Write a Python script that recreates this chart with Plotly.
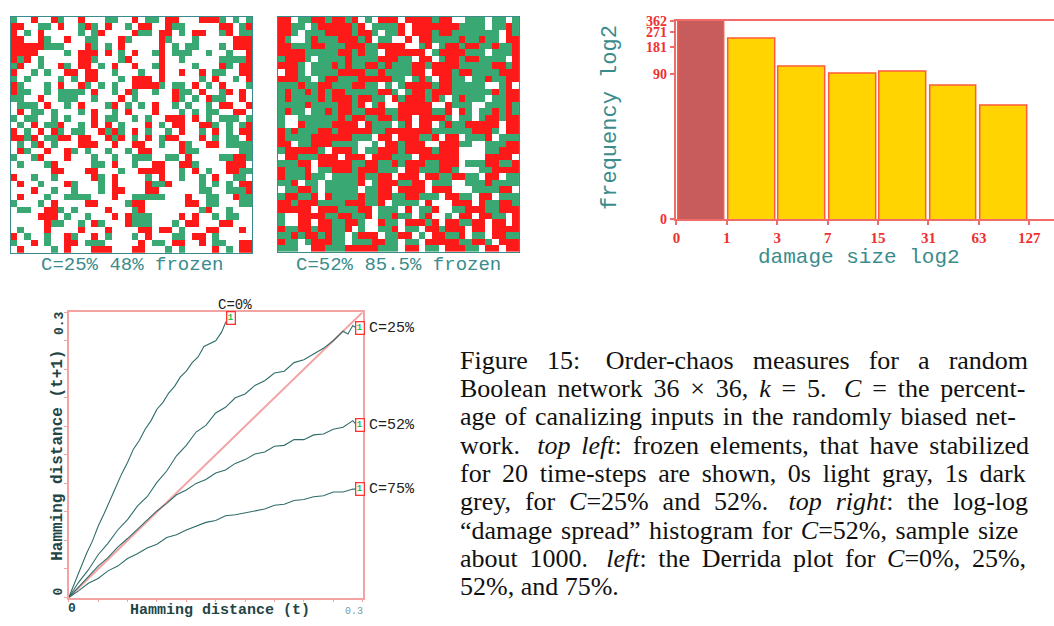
import math
import plotly.graph_objects as go

W, H = 1054, 626

# ---------------- data ----------------
# '.' = not frozen (white), 'r' = frozen at 1 (red), 'g' = frozen at 0 (green)
GRID_C25 = [
    "g..r..rg..r...gg..r.gg.rr...rrrg.g.g",
    "rr..gg.r..grg.r..g.rr..rgg.....rr.gr",
    "r.g.r.....g.gr....rgg.rr.g.rr..gr.gg",
    "rr..rg..r..gg...rg....rg...g.....rrr",
    "rrrrrggg...rg.g.r.....r.g.gg...g.rrr",
    "rrrr....g.rrr.r.g.r..gr.ggg..g..g..r",
    "rgr.g.....rrg...gr....r..g.....ggggr",
    "gr..g..rg.rr.g.r..r..gr....g...rg.rr",
    "r..g.g..rr.rr..g...g..r..r..r.gg..rr",
    "g.g....g.g.rr...g.rrr.r.....g.r..g.r",
    "rg...g.r..rg.g.g..rrrrg.gg.r.g.r...g",
    "rgg..g.gggg.r..g.rg..g..rgg.r..gr.r.",
    "gg..r..ggg..g...r.g.....rg.g.rgg..r.",
    ".ggg.r..g.r...gr.g.g.r..g.g..g.rr..r",
    ".r.gg.g...g.r..g.r...r...g.g.gg..rr.",
    "g.gg..g.g...r.gg..g.g..rrr.r.g.ggg.g",
    ".g.r.ggr..g.r.r.g...r.g.rr..rrg.g.gr",
    "r.g.r.rg.gg..rgrg.r.g..g.r..g.r.g.rr",
    "rrgr.ggrr.rr..rgr.g.r.grr...r.g.gg.r",
    ".g.gr.g...rrr..r..rr..g..rg..rr.gggg",
    ".rg..r..rg.g..g..g.rr....rgg......gg",
    "g..gr...r...g..g..ggg..gg.r....ggrrg",
    ".g...gr.....gg.r..g..rr..rrg....rrr.",
    "......rr...rr...g..rrrr..g.r.g..rrgg",
    "r..g..g.....rg.r....g.r..g..g.r..gg.",
    ".r..g...rg...g.r....rggr....g.g.g.rr",
    "...r..g..g...g.rr...rr......gg..gggr",
    ".r...g..gggg...r..ggggg...r..gg..rgg",
    "g...g.r....rr....grr......rr.gg...gg",
    ".gg..rrg.g....r...gr........gr..g...",
    "....rrr.g..g...r.rggg....r.r..g.gg..",
    ".....rgg..g.rg...rggg...g.rr...rr...",
    ".g...r....r...r....rr.rr.g...rr...r.",
    "r.g..g..rg..r.g...g.r...gg.rr.g.....",
    "g..r.g..rr.ggg.....r.gg.rr..r.gg..rr",
    ".r....g.r...rrr...rr...g.g....r.g.rr",
]

GRID_C52 = [
    "rr.ggr" "rgrrgr" ".g.rrr" ".rrrrg" "rr..gg" "g.gg.g",
    "rrgg.g" "rrrrrg" "r.gggg" "r.rrrr" "rrrggg" "g.ggrg",
    "rrg.gg" "grrrrg" "rrg.gg" "r.rrrg" "rrgggg" "ggg.rg",
    "rg..gr" "gggrrr" "gr.gg." ".r.rrg" "gggrgg" "rgg.rr",
    "rrgggr" "rgggrr" "rggrrr" "r..gr." "grrgrr" "ggrggr",
    "rrrrgg" "gggrrg" "rgg.rr" "rrrr.g" "rrrrgg" "g.gggr",
    "grrrg." "ggggrg" "gggrrr" "gg.rr." "grrgrr" "gggg.r",
    "rrrg.g" "ggrgrg" "grrgrg" "ggrrgr" "rrrggg" "ggrrgr",
    ".rrg.g" "gggrrr" "rggrgg" "ggrr.r" "rrgrrg" "gggrrr",
    "rrrgg." "grrggg" "rrrrrg" "g.grg." "rrgg.g" "grggrr",
    "gggrgg" "rrgggr" "rgg.g." "grrrrg" "rrgggg" "g..gr.",
    "grggrg" "rgrrgg" "gggrrg" ".grrgr" "rrgggg" "ggrgrr",
    "grgggg" "rgrrrg" "rrgg.r" "grrrgr" "g.grgg" "g.ggrr",
    "ggggrg" "gggrrg" "r.gr.." "rrrrr." ".rggg." ".gggrg",
    "grgg.g" "grgrrg" "grrrgg" "rrrrrg" "gr.rg." "ggrgrg",
    "g..ggg" "gggrgr" "rggrrg" "rr.rrr" "rg.gg." "grrgrr",
    "g..rgg" "ggrrrr" ".rggg." "gr.rr." "grggrr" "rrr.rr",
    "rgrggg" "rrgrrr" "rrggrr" "rrrrrg" "gggggr" "rrg.rr",
    "rggggr" "rrrrrg" "gg.rr." "rrrggr" ".rr.gg" "gr.ggg",
    "rr.ggr" "rrgggg" "..g.rr" "grrr.." "rrrgg." ".gggrr",
    "grrrrr" "g.rrrg" ".ggrrr" "grrrrg" "rrr..." ".ggrrr",
    ".rrggg" "rrr.rr" "r.rrrg" "gg.rrr" "rrr..." ".rrrr.",
    "gggrr." "rrrrrg" "grrggr" "grrrgg" "rrr.gg" "grrggr",
    "rgggr." "ggrrrg" "rrrggg" ".rrggg" "rrg..." "ggrrrr",
    "rgggrg" "g.gggg" "rggrr." "rrr.rr" "ggrrgg" ".rr.gg",
    "ggr.gg" ".ggggg" "r.grrr" "ggrr.g" "gg..gg" "grgggg",
    ".ggrrg" ".ggggg" ".ggrr." "rrrr.r" "rr...g" "gggrr.",
    "grrggr" ".rgggg" "rggrrg" "grrggg" ".rrgg." "rr.ggg",
    "rrgrrr" "ggggrr" "rggr.g" "ggg.r." "..rrr." "rggrrg",
    "rrrrr." "rrrggg" "rr.ggg" ".r.ggr" "..ggrr" "rggrrr",
    "g..rrr" "rggrrg" "gr.ggr" "gg.gr." ".g.rr." "rrgg.r",
    "g..rr." "rrggrr" "g..rgg" ".rrrgr" ".rrggr" "r.rr.r",
    "rggrrg" "rrggr." "g..ggr" ".gg.rr" "grrr.r" "r.rrrr",
    "ggrgrr" "grgg.g" "rrr.gg" "rr.g.r" "rggr.g" "g.rrgg",
    "rgg.gr" "rrgg.g" "ggrrgg" ".gg.rr" "rrrggr" "rg.rrr",
    "ggg..r" "rgggrr" "rrrggg" ".rr.gg" ".rrrgg" ".rr.rr",
]

GRID_LABELS = ["C=25% 48% frozen", "C=52% 85.5% frozen"]

# damage-spread histogram (C=52%), log2 bins
BIN_EDGES = ["0", "1", "3", "7", "15", "31", "63", "127"]
FREQ = [362, 226, 111, 92, 98, 67, 40]
FREQ_TICKS = [90, 181, 271, 362]
FREQ_FLOOR = 2.14          # value sitting on the "0" baseline of the log2 axis

# Derrida plot: H(t) -> H(t+1)
DER_C0_X = [0, .006, .012, .018, .024, .030, .036, .042, .048, .054, .060, .066, .072, .078, .084,
            .090, .096, .102, .108, .114, .120, .126, .132, .138, .144, .150, .156, .160, .163]
DER_C0_Y = [0, .016, .030, .046, .059, .075, .088, .103, .116, .130, .142, .156, .165, .177, .186,
            .198, .205, .215, .222, .232, .238, .247, .253, .264, .267, .270, .279, .289, .294]
DER_C25_X = [0, .01, .02, .03, .04, .05, .06, .07, .08, .09, .10, .11, .12, .13, .14, .15, .16,
             .17, .18, .19, .20, .21, .22, .23, .24, .25, .26, .27, .28, .285, .29, .294]
DER_C25_Y = [0, .016, .029, .045, .057, .071, .082, .096, .106, .121, .133, .149, .160, .174, .181,
             .194, .200, .210, .214, .223, .228, .236, .238, .247, .250, .256, .262, .270, .280,
             .277, .286, .283]
DER_X = [0, .01, .02, .03, .04, .05, .06, .07, .08, .09, .10, .11, .12, .13, .14, .15, .16, .17,
         .18, .19, .20, .21, .22, .23, .24, .25, .26, .27, .28, .29, .294]
DER_C52_Y = [0, .011, .022, .033, .042, .053, .062, .072, .081, .091, .099, .108, .113, .120, .124,
             .131, .134, .141, .145, .151, .153, .159, .160, .166, .166, .171, .172, .177, .179,
             .186, .181]
DER_C75_Y = [0, .007, .015, .020, .028, .033, .041, .046, .052, .056, .063, .066, .071, .075, .079,
             .081, .086, .087, .089, .091, .093, .097, .098, .102, .103, .106, .107, .111, .111,
             .114, .114]
DER_LABELS = ["C=0%", "C=25%", "C=52%", "C=75%"]
DER_MAX = 0.3

CAPTION = [
    "Figure 15:\u00a0 Order-chaos measures for a random",
    "Boolean network 36 × 36, <i>k</i> = 5.\u00a0 <i>C</i> = the percent-",
    "age of canalizing inputs in the randomly biased net-",
    "work.\u00a0 <i>top left</i>: frozen elements, that have stabilized",
    "for 20 time-steps are shown, 0s light gray, 1s dark",
    "grey, for <i>C</i>=25% and 52%.\u00a0 <i>top right</i>: the log-log",
    "“damage spread” histogram for <i>C</i>=52%, sample size",
    "about 1000.\u00a0 <i>left</i>: the Derrida plot for <i>C</i>=0%, 25%,",
    "52%, and 75%.",
]
# extra inter-word spacing per caption line (emulates the justified paragraph)
CAPTION_GAP = ["\u2009\u2009\u200a", "\u200a\u200a", "\u200a", "\u200a\u200a", "\u2009",
               "\u2009\u200a", "\u200a", "\u2009", ""]

# ---------------- styling ----------------
MONO = "Liberation Mono, Courier New, monospace"
SERIF = "Liberation Serif, Times New Roman, serif"
RED = "#ff1a1a"
GREEN = "#3aa872"
TEAL = "#3a8c8c"
AXRED = "#f26b6b"
PINK = "#f4a3a3"
CURVE = "#2f6d6b"


def fx(px):
    return px / W


def fy(py):
    return 1 - py / H


fig = go.Figure()

# ---------- heatmaps ----------
code = {".": 0, "r": 1, "g": 2}
cscale = [[0, "#ffffff"], [0.333, "#ffffff"], [0.333, RED], [0.667, RED],
          [0.667, GREEN], [1, GREEN]]
hm_dom = [((6.7, 249.3), (10, 252)), ((275, 517.3), (10, 250.7))]
for i, grid in enumerate([GRID_C25, GRID_C52]):
    z = [[code[ch] for ch in row] for row in grid]
    ax = "" if i == 0 else str(i + 1)
    fig.add_trace(go.Heatmap(z=z, zmin=0, zmax=2, colorscale=cscale, showscale=False,
                             xaxis="x" + ax, yaxis="y" + ax, hoverinfo="skip"))
    (x0, x1), (y0, y1) = hm_dom[i]
    common = dict(showticklabels=False, showgrid=False, zeroline=False, showline=True,
                  mirror=True, linecolor=TEAL, linewidth=1, ticks="")
    fig.layout["xaxis" + ax] = dict(domain=[fx(x0), fx(x1)], range=[-0.5, 35.5],
                                    anchor="y" + ax, **common)
    fig.layout["yaxis" + ax] = dict(domain=[fy(y1), fy(y0)], range=[35.5, -0.5],
                                    anchor="x" + ax, **common)

ann = []
for label, cx in zip(GRID_LABELS, [128, 396]):
    ann.append(dict(text=label, x=fx(cx), y=fy(264), xref="paper", yref="paper",
                    showarrow=False, xanchor="center", yanchor="middle",
                    font=dict(family=MONO, size=19, color=TEAL)))

# ---------- histogram ----------
pos = list(range(len(FREQ)))
fig.add_trace(go.Bar(x=pos, y=FREQ, width=0.93, offset=0.03,
                     marker=dict(color=["#c85c5c"] + ["#ffd400"] * (len(FREQ) - 1),
                                 line=dict(color="#ff5a3a", width=1.5)),
                     xaxis="x3", yaxis="y3", hoverinfo="skip"))
tickfont = dict(family=SERIF, size=15, color="#ee3030")
fig.layout.xaxis3 = dict(domain=[fx(675), 1.0], range=[0, 7.49], anchor="y3",
                         tickvals=list(range(len(BIN_EDGES))),
                         ticktext=["<b>%s</b>" % t for t in BIN_EDGES],
                         ticks="outside", ticklen=4, tickcolor=AXRED, tickwidth=1.5,
                         showline=True, mirror=True, linecolor=AXRED, linewidth=1.5,
                         showgrid=False, zeroline=False, tickfont=tickfont)
fig.layout.yaxis3 = dict(domain=[fy(217.3), fy(14)], type="log",
                         range=[math.log10(FREQ_FLOOR), math.log10(max(FREQ))], anchor="x3",
                         tickvals=[FREQ_FLOOR] + FREQ_TICKS,
                         ticktext=["<b>0</b>"] + ["<b>%d</b>" % v for v in FREQ_TICKS],
                         ticks="outside", ticklen=5, tickcolor=AXRED, tickwidth=1.5,
                         showline=True, linecolor=AXRED, linewidth=1.5,
                         showgrid=False, zeroline=False,
                         tickfont=dict(family=SERIF, size=14, color="#ee3030"))
ann.append(dict(text="frequency log2", x=fx(609), y=fy(113), xref="paper", yref="paper",
                showarrow=False, textangle=-90, xanchor="center", yanchor="middle",
                font=dict(family=MONO, size=22, color=TEAL)))
ann.append(dict(text="damage size log2", x=fx(858), y=fy(257), xref="paper", yref="paper",
                showarrow=False, xanchor="center", yanchor="middle",
                font=dict(family=MONO, size=21, color=TEAL)))

# ---------- Derrida plot ----------
fig.add_trace(go.Scatter(x=[0, DER_MAX], y=[0, DER_MAX], mode="lines",
                         line=dict(color=PINK, width=2), xaxis="x4", yaxis="y4",
                         hoverinfo="skip"))
curves = [(DER_C0_X, DER_C0_Y), (DER_C25_X, DER_C25_Y), (DER_X, DER_C52_Y), (DER_X, DER_C75_Y)]
for (xs, ys), lab in zip(curves, DER_LABELS):
    fig.add_trace(go.Scatter(x=xs, y=ys, mode="lines", line=dict(color=CURVE, width=1.1),
                             xaxis="x4", yaxis="y4", hoverinfo="skip"))
    ann.append(dict(text="<b>1</b>", x=xs[-1], y=ys[-1], xref="x4", yref="y4", showarrow=False,
                    xshift=3, xanchor="center", yanchor="middle",
                    font=dict(family=MONO, size=9, color="#1fbf3f"),
                    bordercolor="#ff3333", borderwidth=1.3, borderpad=0.5, bgcolor="#ffffff"))
    if lab == "C=0%":
        ann.append(dict(text=lab, x=xs[-1], y=fy(305), xref="x4", yref="paper",
                        showarrow=False, xshift=7, xanchor="center", yanchor="middle",
                        font=dict(family=MONO, size=14, color="#222222")))
    else:
        ann.append(dict(text=lab, x=fx(364), y=ys[-1], xref="paper", yref="y4",
                        showarrow=False, xanchor="left", yanchor="middle",
                        font=dict(family=MONO, size=15, color="#222222")))

der_axis = dict(range=[0, DER_MAX], showline=True, mirror=True, linecolor=PINK, linewidth=1.5,
                ticks="outside", dtick=0.03, tick0=0, ticklen=3, tickcolor=PINK,
                showticklabels=False, showgrid=False, zeroline=False)
fig.layout.xaxis4 = dict(domain=[fx(65), fx(360)], anchor="y4", **der_axis)
fig.layout.yaxis4 = dict(domain=[fy(605), fy(312.7)], anchor="x4", **der_axis)

DARK = "#1f4545"
ann += [
    dict(text="<b>Hamming distance (t+1)</b>", x=fx(54), y=fy(459), xref="paper", yref="paper",
         showarrow=False, textangle=-90, xanchor="center", yanchor="middle",
         font=dict(family=MONO, size=16, color=DARK)),
    dict(text="<b>Hamming distance (t)</b>", x=fx(217), y=fy(618), xref="paper", yref="paper",
         showarrow=False, xanchor="center", yanchor="middle",
         font=dict(family=MONO, size=15, color=DARK)),
    dict(text="<b>0.3</b>", x=fx(55), y=fy(324), xref="paper", yref="paper", showarrow=False,
         textangle=-90, xanchor="center", yanchor="middle",
         font=dict(family=MONO, size=13, color=DARK)),
    dict(text="<b>0</b>", x=fx(55), y=fy(599), xref="paper", yref="paper", showarrow=False,
         textangle=-90, xanchor="center", yanchor="middle",
         font=dict(family=MONO, size=13, color=DARK)),
    dict(text="<b>0</b>", x=fx(68), y=fy(616), xref="paper", yref="paper", showarrow=False,
         xanchor="center", yanchor="middle", font=dict(family=MONO, size=13, color=DARK)),
    dict(text="0.3", x=fx(351), y=fy(619), xref="paper", yref="paper", showarrow=False,
         xanchor="center", yanchor="middle", font=dict(family=MONO, size=10, color="#7a9a9a")),
]

# ---------- caption ----------
for i, (line, gap) in enumerate(zip(CAPTION, CAPTION_GAP)):
    text = (" " + gap).join(line.split(" "))
    ann.append(dict(text=text, x=fx(456), y=fy(362 + 29 * i), xref="paper", yref="paper",
                    showarrow=False, xanchor="left", yanchor="middle",
                    font=dict(family=SERIF, size=26, color="#111111")))

fig.update_layout(width=W, height=H, margin=dict(l=0, r=0, t=0, b=0),
                  paper_bgcolor="white", plot_bgcolor="white", showlegend=False,
                  annotations=ann, bargap=0)

fig.write_html("out.html", config={"displayModeBar": False})
